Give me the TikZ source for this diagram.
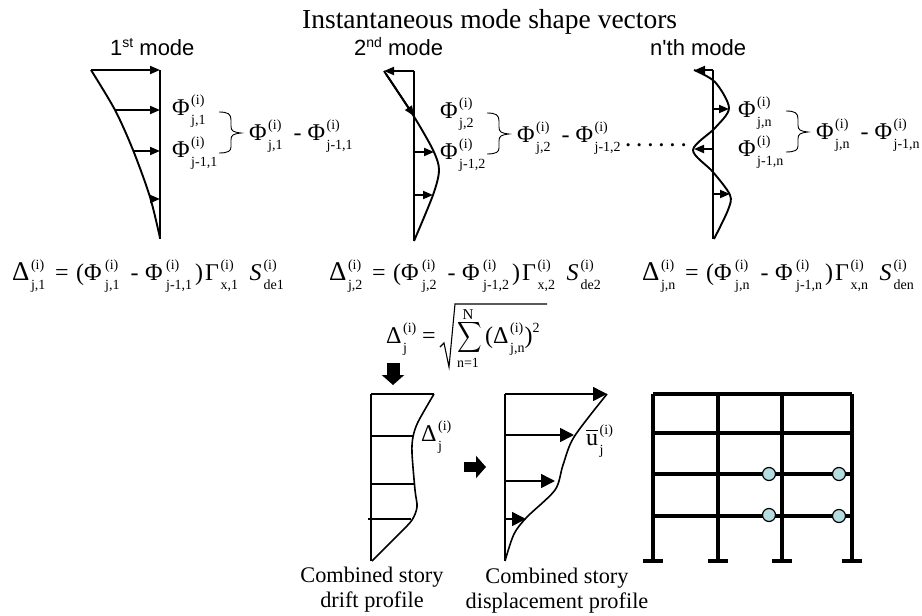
\documentclass[tikz,border=0pt]{standalone}
\usepackage{amsmath,amssymb,amsfonts}
\usepackage{fontspec}
\setmainfont{Liberation Serif}
\newfontfamily\labelfont{Liberation Sans}
\usepackage{xcolor}
\usetikzlibrary{arrows.meta, positioning}

\definecolor{hingefill}{HTML}{B5DDE0}

\tikzset{
  modeline/.style={line width=1.9pt},
  profileline/.style={line width=1.6pt},
  modearrow/.style={line width=1.9pt, -{Triangle[length=10pt,width=8pt]}},
  bigarrow/.style={line width=1.6pt, -{Triangle[length=14pt,width=14pt]}},
  framebar/.style={line width=3.7pt},
  blockarrow/.style={line width=13pt, -{Triangle[length=10pt,width=22pt]}},
  hinge/.style={circle, draw=black, fill=hingefill, line width=1.2pt, minimum size=13pt, inner sep=0pt},
  eqn/.style={anchor=base west, inner sep=0pt},
  modetitle/.style={anchor=base west, inner sep=0pt, font=\fontsize{22}{24}\selectfont\labelfont},
  caption/.style={anchor=base, inner sep=0pt, align=center, font=\fontsize{22.3}{25}\selectfont}
}

% sizes of the big symbols and of the small indices
\newcommand{\bigsize}{\fontsize{24}{24}\selectfont}
\newcommand{\smallsize}{\fontsize{14}{14}\selectfont}
\newcommand{\symgap}{1.5pt}
% symbol with (i) on top and an index below
\newcommand{\sym}[2]{{\bigsize #1}\hspace{\symgap}\rlap{\raisebox{10.5pt}{\smallsize (i)}}\raisebox{-9pt}{\smallsize #2}}
\newcommand{\diffsym}[2]{\sym{Φ}{#1}\hspace{11pt}{\bigsize -}\hspace{6pt}\sym{Φ}{#2}}
\newcommand{\storyeq}[4]{\sym{\fontsize{27}{27}\selectfont Δ}{#1}\hspace{9.6pt}{\bigsize =}\hspace{7.5pt}{\bigsize (}%
  {\renewcommand{\symgap}{3.5pt}\sym{Φ}{#1}\hspace{11pt}{\bigsize -}\hspace{6.6pt}\sym{Φ}{#2}}\hspace{3pt}{\bigsize )}\hspace{2pt}%
  \sym{Γ}{#3}\hspace{11.5pt}{\renewcommand{\symgap}{2pt}\sym{\textit{S}}{#4}}}
\newcommand{\modebrace}[2]{%
  \draw[line width=0.9pt] (#1,#2) .. controls (#1+9,#2) and (#1+12,#2+2) .. (#1+12,#2+8)
    -- (#1+12,#2+14) .. controls (#1+12,#2+19) and (#1+14,#2+20) .. (#1+22,#2+21)
    .. controls (#1+14,#2+22) and (#1+12,#2+23) .. (#1+12,#2+28)
    -- (#1+12,#2+35) .. controls (#1+12,#2+39) and (#1+9,#2+41) .. (#1,#2+41);}

\begin{document}
\begin{tikzpicture}[x=1pt,y=-1pt]
    \useasboundingbox (0,0) rectangle (922,616);

    % Titles
    \node[anchor=base west, inner sep=0pt, font=\fontsize{27.5}{27.5}\selectfont] (maintitle) at (302,28) {Instantaneous mode shape vectors};
    \node[modetitle] (firsttitle) at (110,55) {1\raisebox{8pt}{\fontsize{14}{14}\selectfont st} mode};
    \node[modetitle] (secondtitle) at (354,55) {2\raisebox{8pt}{\fontsize{14}{14}\selectfont nd} mode};
    \node[modetitle] (lasttitle) at (650,55) {n'th mode};

    % --- 1st mode ---
    \draw[modeline] (160,70) -- (160,239);
    \draw[modeline] plot[smooth] coordinates {(91,70) (115,110) (133,150) (150,197) (160,238)};
    \foreach \y/\x in {70/91, 110/115, 151/133, 199/150} {
        \draw[modearrow] (\x,\y) -- (160,\y);
    }
    \node[eqn] (firstupper) at (172,115) {\sym{Φ}{j,1}};
    \node[eqn] (firstlower) at (172,157) {\sym{Φ}{j-1,1}};
    \modebrace{219}{112}
    \node[eqn] (firstdiff) at (249,140) {\diffsym{j,1}{j-1,1}};

    % --- 2nd mode ---
    \draw[modeline] (414,71) -- (414,241);
    \draw[modeline] plot[smooth] coordinates {(384,71) (413,115) (433,150) (439,170) (433,195) (414,241)};
    \draw[modearrow] (414,71) -- (384,71);
    \draw[modearrow] (386,74) -- (414,116);
    \foreach \y/\x in {152/434, 195/433} {
        \draw[modearrow] (414,\y) -- (\x,\y);
    }
    \node[eqn] (secondupper) at (440,118) {\sym{Φ}{j,2}};
    \node[eqn] (secondlower) at (440,159) {\sym{Φ}{j-1,2}};
    \modebrace{487}{113}
    \node[eqn] (seconddiff) at (517,142) {\diffsym{j,2}{j-1,2}};

    % --- n'th mode ---
    \node[anchor=base, inner sep=0pt, font=\fontsize{19}{19}\selectfont\bfseries] (dots) at (656,146) {. . . . . .};
    \draw[modeline] (713,70) -- (713,239);
    \draw[modeline] plot[smooth] coordinates {(694,70) (715,82) (729,108) (715,128) (693,150) (713,172) (730,195) (728,210) (714,239)};
    \foreach \y/\x in {70/695, 109/729, 149/694, 194/730} {
        \draw[modearrow] (713,\y) -- (\x,\y);
    }
    \node[eqn] (lastupper) at (738,117) {\sym{Φ}{j,n}};
    \node[eqn] (lastlower) at (738,156) {\sym{Φ}{j-1,n}};
    \modebrace{786}{111}
    \node[eqn] (lastdiff) at (816,139) {\diffsym{j,n}{j-1,n}};

    % Story drift equations
    \node[eqn] (firsteq) at (12,280) {\storyeq{j,1}{j-1,1}{x,1}{de1}};
    \node[eqn] (secondeq) at (329,280) {\storyeq{j,2}{j-1,2}{x,2}{de2}};
    \node[eqn] (lasteq) at (642,280) {\storyeq{j,n}{j-1,n}{x,n}{den}};

    % Combination equation
    \node[eqn] (combdelta) at (386,343) {\sym{Δ}{j}};
    \node[eqn] (combequals) at (422,343) {\bigsize =};
    \draw[line width=1.1pt] (440,347) -- (444,343) -- (449,367) -- (455,304) -- (547,304);
    \node[inner sep=0pt, xscale=1.7, yscale=2.14] (combsum) at (470,337) {$\displaystyle\sum$};
    \node[anchor=base, inner sep=0pt, font=\fontsize{15}{15}\selectfont] (combtop) at (468,319) {N};
    \node[anchor=base, inner sep=0pt, font=\fontsize{14}{14}\selectfont] (combbottom) at (468,367) {n=1};
    \node[eqn] (combterm) at (485,343) {{\bigsize (}\sym{Δ}{j,n}{\bigsize )}\raisebox{10.5pt}{\smallsize 2}};

    % Block arrows
    \draw[blockarrow] (393,363) -- (393,385);
    \draw[blockarrow, line width=10pt] (464,467) -- (486,467);

    % --- Combined drift profile ---
    \draw[profileline] (371,394) -- (371,561);
    \draw[profileline] (371,394) -- (434,394);
    \draw[profileline] plot[smooth] coordinates {(434,394) (418,422) (413,437) (412,453) (415,490) (417,507) (412,520) (400,533) (372,561)};
    \foreach \y/\xa/\xb in {436/371/413, 484/371/415, 519/368/411} {
        \draw[profileline] (\xa,\y) -- (\xb,\y);
    }
    \node[eqn] (driftlabel) at (421,441) {\sym{Δ}{j}};
    \node[caption] (driftcaption) at (372,607) {Combined story\\drift profile};

    % --- Combined displacement profile ---
    \draw[profileline] (505,394) -- (505,561);
    \draw[profileline] plot[smooth] coordinates {(607,394) (574,437) (563,465) (555,490) (527,517) (514,534) (505,561)};
    \foreach \y/\x in {394/607, 435/574, 481/555, 519/526} {
        \draw[bigarrow] (505,\y) -- (\x,\y);
    }
    \node[eqn] (displabel) at (586,445) {\sym{$\overline{\mbox{\bigsize u}}$}{j}};
    \node[caption] (dispcaption) at (557,608) {Combined story\\displacement profile};

    % --- Frame ---
    \foreach \x in {653,718,782,852} {
        \draw[framebar] (\x,394) -- (\x,561);
        \draw[framebar] (\x-10,561) -- (\x+10,561);
    }
    \foreach \y in {394,433,474,516} {
        \draw[framebar] (653,\y) -- (852,\y);
    }
    \node[hinge] (hingea) at (769,474) {};
    \node[hinge] (hingeb) at (839,474) {};
    \node[hinge] (hingec) at (769,515) {};
    \node[hinge] (hinged) at (839,516) {};
\end{tikzpicture}
\end{document}
